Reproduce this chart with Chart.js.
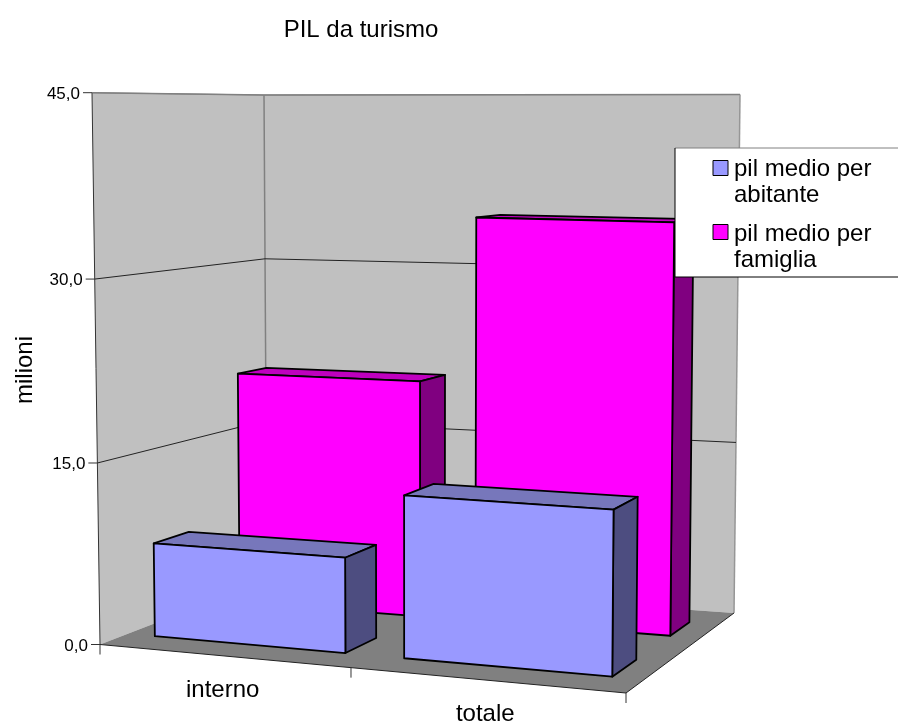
<!DOCTYPE html>
<html>
<head>
<meta charset="utf-8">
<title>PIL da turismo</title>
<script src="https://cdn.jsdelivr.net/npm/chart.js@4"></script>
<style>
    html, body { margin: 0; padding: 0; background: #fff; overflow: hidden; }
    canvas { display: block; }
</style>
</head>
<body>
<canvas id="myChart" width="898" height="722"></canvas>
<script>
const categorie = ['interno', 'totale'];
const pilAbitante = [7.8, 13.2];
const pilFamiglia = [20.4, 34.5];
const nomiSerie = [['pil medio per', 'abitante'], ['pil medio per', 'famiglia']];
const FONT = '"Liberation Sans", Arial, sans-serif';

// angoli del pavimento sullo schermo: davanti-sx, davanti-dx, dietro-dx, dietro-sx
const pavimento = [[100, 644.5], [626, 693], [734, 613], [267, 580]];
// vettore verticale (da 0 a 45) negli stessi quattro angoli
const altezza = [[-8, -551.8], [5, -590], [6, -518.5], [-3, -485]];

// profondita' delle serie dentro il cubo (0 = davanti, 1 = dietro)
const profondita = [[0.147, 0.345], [0.65, 0.835]];

// omografia dal quadrato unitario al quadrilatero
function omografia(q) {
    const [[x0, y0], [x1, y1], [x2, y2], [x3, y3]] = q;
    const sx = x0 - x1 + x2 - x3, sy = y0 - y1 + y2 - y3;
    const dx1 = x1 - x2, dx2 = x3 - x2, dy1 = y1 - y2, dy2 = y3 - y2;
    const det = dx1 * dy2 - dx2 * dy1;
    const g = (sx * dy2 - dx2 * sy) / det;
    const h = (dx1 * sy - sx * dy1) / det;
    const a = x1 - x0 + g * x1, b = x3 - x0 + h * x3;
    const d = y1 - y0 + g * y1, e = y3 - y0 + h * y3;
    return (u, w) => {
        const z = g * u + h * w + 1;
        return [(a * u + b * w + x0) / z, (d * u + e * w + y0) / z];
    };
}
const mapPavimento = omografia(pavimento);

// prospettiva su un asse: k = 1 lascia tutto lineare
const curva = (t, k) => t / (t + k * (1 - t));

// u = asse categorie, v = asse valori, w = profondita'
function proietta(u, v, w) {
    const uu = curva(u, 0.954);
    const vv = curva(v, 1.02);
    const f = mapPavimento(uu, w);
    const pesi = [(1 - uu) * (1 - w), uu * (1 - w), uu * w, (1 - uu) * w];
    const dx = pesi.reduce((s, p, i) => s + p * altezza[i][0], 0);
    const dy = pesi.reduce((s, p, i) => s + p * altezza[i][1], 0);
    return [f[0] + dx * vv, f[1] + dy * vv];
}

function poligono(ctx, punti, fill, stroke, lw) {
    ctx.beginPath();
    punti.forEach((p, i) => i ? ctx.lineTo(p[0], p[1]) : ctx.moveTo(p[0], p[1]));
    ctx.closePath();
    if (fill) { ctx.fillStyle = fill; ctx.fill(); }
    if (stroke) { ctx.strokeStyle = stroke; ctx.lineWidth = lw; ctx.lineJoin = 'round'; ctx.stroke(); }
}

function linea(ctx, a, b, colore, lw) {
    ctx.beginPath();
    ctx.moveTo(a[0], a[1]);
    ctx.lineTo(b[0], b[1]);
    ctx.strokeStyle = colore;
    ctx.lineWidth = lw;
    ctx.stroke();
}

function testo(ctx, s, x, y, size, align) {
    ctx.font = size + 'px ' + FONT;
    ctx.fillStyle = '#000';
    ctx.textAlign = align;
    ctx.textBaseline = 'alphabetic';
    ctx.fillText(s, x, y);
}

const grafico3d = {
    id: 'grafico3d',
    beforeDatasetsDraw(chart) {
        const ctx = chart.ctx;
        const area = chart.chartArea;
        const sy = chart.scales.y;
        const su = px => (px - area.left) / (area.right - area.left);
        const sv = py => (area.bottom - py) / (area.bottom - area.top);

        // pareti e pavimento
        poligono(ctx, [proietta(0, 0, 0), proietta(0, 1, 0), proietta(0, 1, 1), proietta(0, 0, 1)], '#c0c0c0');
        poligono(ctx, [proietta(0, 0, 1), proietta(0, 1, 1), proietta(1, 1, 1), proietta(1, 0, 1)], '#c0c0c0');
        poligono(ctx, [proietta(0, 0, 0), proietta(1, 0, 0), proietta(1, 0, 1), proietta(0, 0, 1)], '#808080');

        linea(ctx, proietta(0, 1, 0), proietta(0, 1, 1), '#808080', 1.5);
        linea(ctx, proietta(0, 1, 1), proietta(1, 1, 1), '#808080', 1.5);
        linea(ctx, proietta(1, 1, 1), proietta(1, 0, 1), '#969696', 1.5);
        linea(ctx, proietta(0, 1, 1), proietta(0, 0, 1), '#808080', 1.5);
        linea(ctx, proietta(0, 1, 0), proietta(0, 0, 0), '#333', 1);

        // griglia e tacche asse y
        sy.ticks.forEach(t => {
            const v = sv(sy.getPixelForValue(t.value));
            const a = proietta(0, v, 0), b = proietta(0, v, 1), c = proietta(1, v, 1);
            if (t.value > 0) {
                const col = t.value === 45 ? '#808080' : '#222';
                linea(ctx, a, b, col, 1);
                linea(ctx, b, c, col, 1);
            }
            linea(ctx, [a[0] - 9, a[1]], a, '#333', 1);
            testo(ctx, t.label, a[0] - 12, a[1] + 6, 17, 'right');
        });

        // bordo davanti del pavimento e bordo destro
        linea(ctx, proietta(0, 0, 0), proietta(1, 0, 0), '#222', 1);
        linea(ctx, proietta(1, 0, 0), proietta(1, 0, 1), '#222', 1);

        // tacche asse x: tra le categorie, etichette al centro
        [0, 0.5, 1].forEach(u => {
            const p = proietta(u, 0, 0);
            linea(ctx, p, [p[0], p[1] + 10], '#333', 1);
        });
        chart.scales.x.ticks.forEach((t, i) => {
            const p = proietta(su(chart.scales.x.getPixelForTick(i)), 0, 0);
            testo(ctx, t.label, p[0], p[1] + 41, 24, 'center');
        });

        // barre: prima la serie dietro, poi quella davanti
        [1, 0].forEach(ds => {
            const [w0, w1] = profondita[ds];
            const colori = chart.data.datasets[ds];
            chart.getDatasetMeta(ds).data.forEach(el => {
                const u0 = su(el.x - el.width / 2);
                const u1 = su(el.x + el.width / 2);
                const v0 = sv(el.base), v1 = sv(el.y);
                const bl = proietta(u0, v0, w0), br = proietta(u1, v0, w0);
                const tl = proietta(u0, v1, w0), tr = proietta(u1, v1, w0);
                const btl = proietta(u0, v1, w1), btr = proietta(u1, v1, w1), bbr = proietta(u1, v0, w1);
                poligono(ctx, [tl, btl, btr, tr], colori.coloreSopra, '#000', 1.8);
                poligono(ctx, [tr, btr, bbr, br], colori.coloreLato, '#000', 1.8);
                poligono(ctx, [bl, tl, tr, br], colori.backgroundColor, '#000', 1.8);
            });
        });

        // titoli
        testo(ctx, 'PIL da turismo', 361, 37, 24, 'center');
        ctx.save();
        ctx.translate(32, 370);
        ctx.rotate(-Math.PI / 2);
        testo(ctx, 'milioni', 0, 0, 24, 'center');
        ctx.restore();

        // legenda, esce dal bordo destro come nell'originale
        ctx.fillStyle = '#fff';
        ctx.fillRect(675, 148, 230, 129);
        linea(ctx, [675, 148], [898, 148], '#808080', 1);
        linea(ctx, [675, 148], [675, 277], '#000', 1);
        linea(ctx, [675, 277], [898, 277], '#000', 1);
        [[160.5, 176], [224.5, 240.5]].forEach((r, i) => {
            ctx.fillStyle = chart.data.datasets[i].backgroundColor;
            ctx.fillRect(713, r[0], 15, 15);
            ctx.strokeStyle = '#000';
            ctx.lineWidth = 1;
            ctx.strokeRect(713, r[0], 15, 15);
            testo(ctx, nomiSerie[i][0], 734, r[1], 24, 'left');
            testo(ctx, nomiSerie[i][1], 734, r[1] + 26, 24, 'left');
        });

        return false; // le barre piatte non servono
    }
};

new Chart(document.getElementById('myChart'), {
    type: 'bar',
    data: {
        labels: categorie,
        datasets: [
            { label: 'pil medio per abitante', data: pilAbitante, backgroundColor: '#9999ff', coloreSopra: '#7777bb', coloreLato: '#4d4d80' },
            { label: 'pil medio per famiglia', data: pilFamiglia, backgroundColor: '#ff00ff', coloreSopra: '#bf00bf', coloreLato: '#800080' }
        ]
    },
    options: {
        responsive: false,
        animation: false,
        grouped: false,
        categoryPercentage: 0.772,
        barPercentage: 1,
        layout: { padding: 0 },
        plugins: { legend: { display: false }, tooltip: { enabled: false } },
        scales: {
            x: { display: false },
            y: {
                display: false,
                min: 0,
                max: 45,
                ticks: { stepSize: 15, callback: v => v.toFixed(1).replace('.', ',') }
            }
        }
    },
    plugins: [grafico3d]
});
</script>
</body>
</html>
